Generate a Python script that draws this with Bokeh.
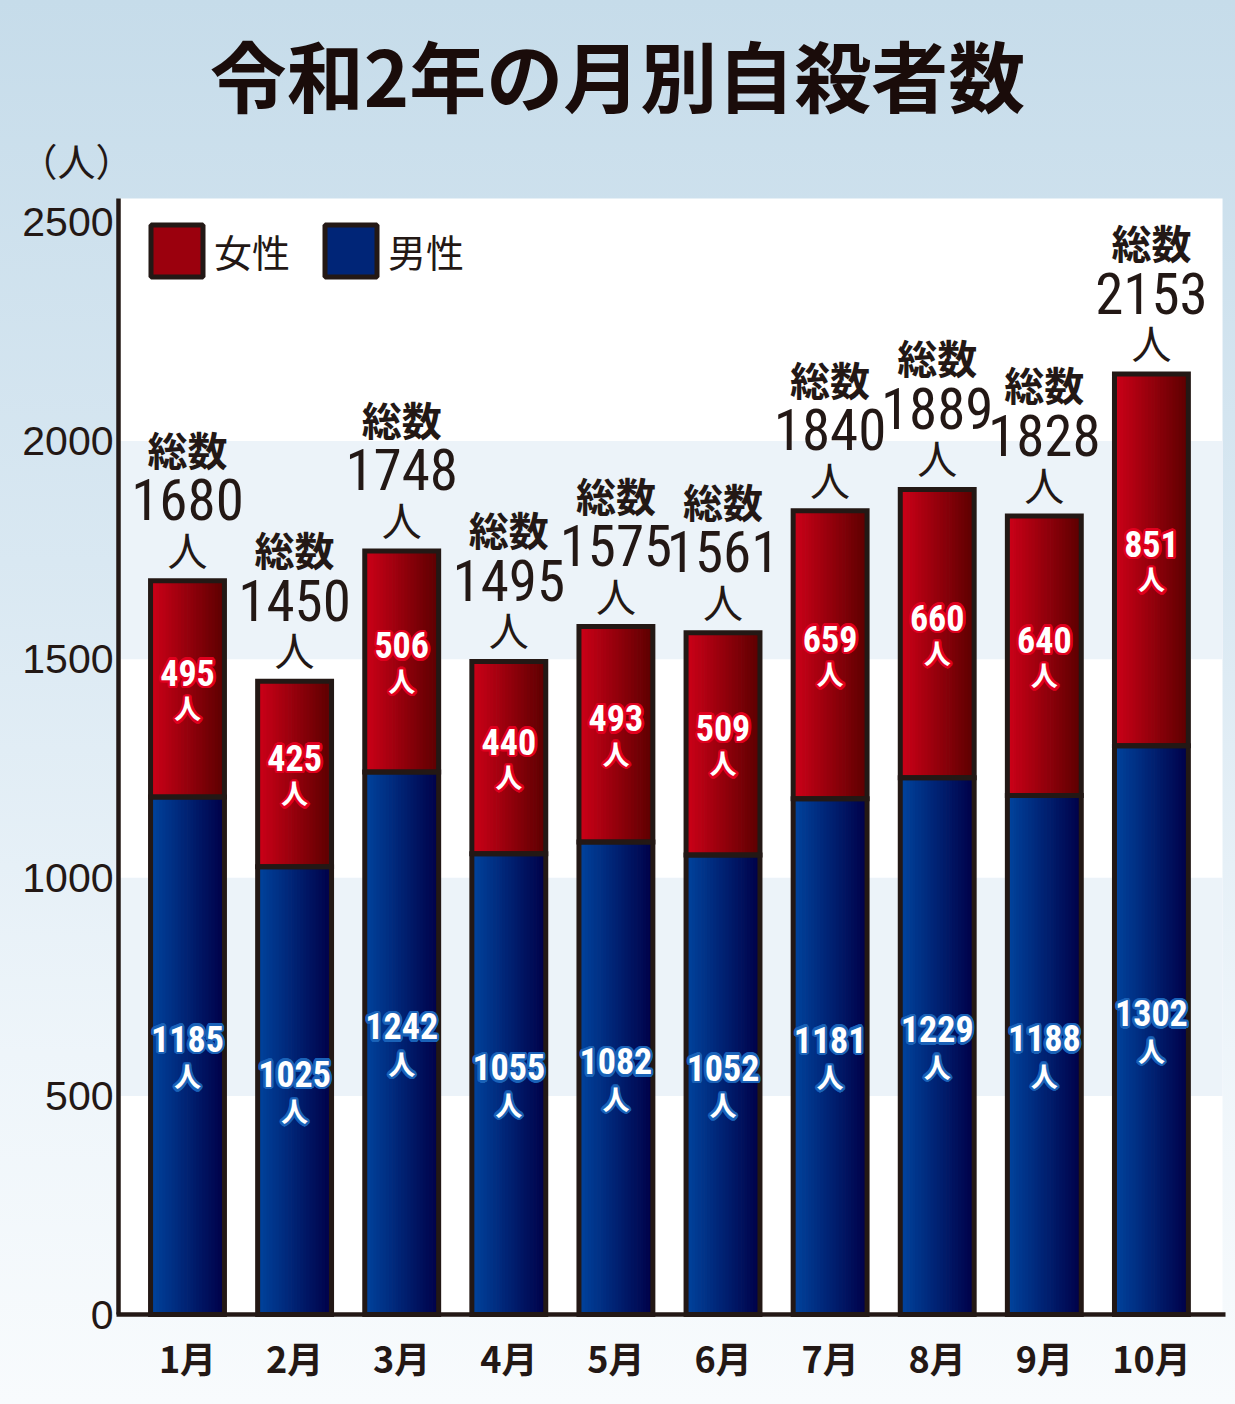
import numpy as np
from bokeh.plotting import figure
from bokeh.models import (ColumnDataSource, FixedTicker, Label, BoxAnnotation,
                          Legend, LegendItem, Range1d)
from bokeh.core.properties import value
from bokeh.embed import file_html
from bokeh.resources import INLINE

# ---------------- data ----------------
months = ["1月", "2月", "3月", "4月", "5月", "6月", "7月", "8月", "9月", "10月"]
male = [1185, 1025, 1242, 1055, 1082, 1052, 1181, 1229, 1188, 1302]
female = [495, 425, 506, 440, 493, 509, 659, 660, 640, 851]
total = [1680, 1450, 1748, 1495, 1575, 1561, 1840, 1889, 1828, 2153]
y_ticks = [0, 500, 1000, 1500, 2000, 2500]
title_text = "令和2年の月別自殺者数"
unit_text = "（人）"
series_names = ["女性", "男性"]
total_word = "総数"
person_word = "人"

# ---------------- styling ----------------
DARK = "#231815"
CJK = "Noto Sans CJK JP"
NARROW = "Roboto Condensed"
RED_L, RED_R = (206, 0, 24), (92, 0, 0)
BLUE_L, BLUE_R = (0, 68, 158), (0, 0, 72)
BAR_W = 0.69
NSL = 24
PLOT_L, PLOT_R, PLOT_T = -0.644, 9.664, 2555

def lerp(c1, c2, t):
    return "#%02x%02x%02x" % tuple(int(round(a + (b - a) * t)) for a, b in zip(c1, c2))

p = figure(width=1235, height=1404,
           x_range=Range1d(-1.746, 9.785), y_range=Range1d(-206.0, 3008.2),
           output_backend="svg", toolbar_location=None, title=None,
           min_border=0)
p.border_fill_color = None
p.background_fill_color = None
p.outline_line_color = None
p.styles = {"background": "linear-gradient(180deg, #c6dcea 0%, #d9e8f2 40%, #eef5fa 75%, #f8fbfd 100%)"}
p.xgrid.visible = False
p.ygrid.visible = False

# plot area + alternating bands
p.add_layout(BoxAnnotation(left=PLOT_L, right=PLOT_R, bottom=0, top=PLOT_T, fill_color="white",
                           fill_alpha=1.0, line_alpha=0, level="underlay"))
for lo, hi in [(y_ticks[1], y_ticks[2]), (y_ticks[3], y_ticks[4])]:
    p.add_layout(BoxAnnotation(left=PLOT_L, right=PLOT_R, bottom=lo, top=hi,
                               fill_color="#ecf3f9", fill_alpha=1.0, line_alpha=0,
                               level="underlay"))

idx = list(range(len(months)))

# gradient slices for bars
sx, sb, st, sc = [], [], [], []
for i in idx:
    for k in range(NSL):
        t = (k + 0.5) / NSL
        xx = i - BAR_W / 2 + t * BAR_W
        sx.append(xx); sb.append(0); st.append(male[i]); sc.append(lerp(BLUE_L, BLUE_R, t))
        sx.append(xx); sb.append(male[i]); st.append(total[i]); sc.append(lerp(RED_L, RED_R, t))
p.vbar(x=sx, bottom=sb, top=st, width=BAR_W / NSL * 1.25, fill_color=sc, line_color=None)

# bar outlines
p.vbar(x=idx, bottom=0, top=male, width=BAR_W, fill_color=None, line_color=DARK,
       line_width=5, line_join="miter")
p.vbar(x=idx, bottom=male, top=total, width=BAR_W, fill_color=None, line_color=DARK,
       line_width=5, line_join="miter")

src = ColumnDataSource(dict(
    x=idx,
    fmid=[m + f / 2 for m, f in zip(male, female)],
    mmid=[m / 2 for m in male],
    top=total,
    ftxt=[str(v) for v in female],
    mtxt=[str(v) for v in male],
    ttxt=[str(v) for v in total],
    nin=[person_word] * len(idx),
    sou=[total_word] * len(idx),
))

def outlined(y, text, font, size, style, yoff, ocol, r=2.5):
    for a in np.linspace(0, 2 * np.pi, 16, endpoint=False):
        p.text(x="x", y=y, text=text, source=src, x_offset=float(r * np.cos(a)),
               y_offset=float(yoff + r * np.sin(a)), text_color=ocol, text_font=value(font),
               text_font_size=size, text_font_style=style, text_align="center",
               text_baseline="middle")
    p.text(x="x", y=y, text=text, source=src, x_offset=0, y_offset=yoff, text_color="white",
           text_font=value(font), text_font_size=size, text_font_style=style,
           text_align="center", text_baseline="middle")

outlined("fmid", "ftxt", NARROW, "36px", "bold", -16, "#e0001e")
outlined("fmid", "nin", CJK, "27px", "bold", 19, "#e0001e")
outlined("mmid", "mtxt", NARROW, "36px", "bold", -17, "#1a62b8")
outlined("mmid", "nin", CJK, "27px", "bold", 20, "#1a62b8")

# totals above bars
p.text(x="x", y="top", text="sou", source=src, y_offset=-132, text_color=DARK,
       text_font=value(CJK), text_font_size="40px", text_font_style="bold",
       text_align="center", text_baseline="middle")
p.text(x="x", y="top", text="ttxt", source=src, y_offset=-81, text_color=DARK,
       text_font=value(NARROW), text_font_size="57px",
       text_align="center", text_baseline="middle")
p.text(x="x", y="top", text="nin", source=src, y_offset=-32, text_color=DARK,
       text_font=value(CJK), text_font_size="40px",
       text_align="center", text_baseline="middle")

# axes (drawn at fixed data positions)
p.xaxis.ticker = FixedTicker(ticks=idx)
p.xaxis.major_label_overrides = {i: m for i, m in zip(idx, months)}
p.yaxis.ticker = FixedTicker(ticks=y_ticks)
p.xaxis.fixed_location = 0
p.yaxis.fixed_location = PLOT_L
p.xaxis.bounds = (PLOT_L - 0.02, PLOT_R + 0.03)
p.yaxis.bounds = (0, PLOT_T)
for ax in (p.xaxis[0], p.yaxis[0]):
    ax.axis_line_color = DARK
    ax.axis_line_width = 4.5
    ax.major_tick_line_color = None
    ax.minor_tick_line_color = None
    ax.major_tick_out = 0
    ax.major_tick_in = 0
    ax.major_label_text_color = DARK
p.yaxis.major_label_text_font = "Liberation Sans"
p.yaxis.major_label_text_font_size = "41px"
p.yaxis.major_label_standoff = 5
p.xaxis.major_label_text_font = CJK
p.xaxis.major_label_text_font_size = "36px"
p.xaxis.major_label_text_font_style = "bold"
p.xaxis.major_label_standoff = 16

# legend (swatch-only renderers carry no data)
r_f = p.vbar(x=[np.nan], bottom=[np.nan], top=[np.nan], width=0.5,
             fill_color=lerp(RED_L, RED_R, 0.45), line_color=DARK, line_width=5)
r_m = p.vbar(x=[np.nan], bottom=[np.nan], top=[np.nan], width=0.5,
             fill_color=lerp(BLUE_L, BLUE_R, 0.45), line_color=DARK, line_width=5)
legend = Legend(items=[LegendItem(label=series_names[0], renderers=[r_f]),
                       LegendItem(label=series_names[1], renderers=[r_m])],
                location=(144, 1121), orientation="horizontal", margin=0, padding=0,
                spacing=28, glyph_width=65, glyph_height=65, label_standoff=5,
                label_text_font=CJK, label_text_font_size="38px", label_text_color=DARK,
                background_fill_alpha=0, border_line_alpha=0)
p.add_layout(legend)

# title and unit
p.add_layout(Label(x=4.015, y=2841, text=title_text, text_font=CJK, text_font_size="77px",
                   text_font_style="bold", text_align="center", text_baseline="middle",
                   text_color="#1a0c0a"))
p.add_layout(Label(x=-1.036, y=2644, text=unit_text, text_font=CJK, text_font_size="38px",
                   text_align="center", text_baseline="middle", text_color=DARK))

open("out.html", "w").write(file_html(p, INLINE))
